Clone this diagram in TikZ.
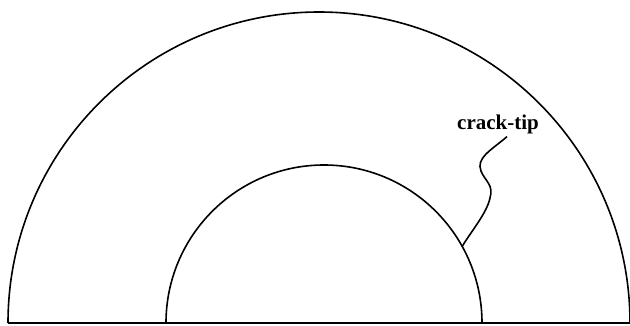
\documentclass[tikz,border=0pt]{standalone}
\usepackage{fontspec}
\setmainfont{Liberation Serif}
\begin{document}
\begin{tikzpicture}[x=1pt,y=1pt,line width=1.6pt]
\useasboundingbox (0,-2) rectangle (630,323);
\coordinate (oc) at (319,0);
\coordinate (ic) at (324,0);

% base line and the two half circles
\draw (8,0) -- (630,0);
\draw (8,0) arc (180:0:311);
\draw (166,0) arc (180:0:158);

\coordinate (tip) at ([shift={(29:158)}]ic);
\node[font=\bfseries\fontsize{21}{24}\selectfont] (lbl) at (498,199) {crack-tip};

\draw ([xshift=9pt,yshift=1pt]lbl.south) .. controls (490,172) and (476,165) .. (481,152)
  .. controls (485,142) and (494,138) .. (490,125)
  .. controls (487,110) and (470,90) .. (tip);
\end{tikzpicture}
\end{document}
